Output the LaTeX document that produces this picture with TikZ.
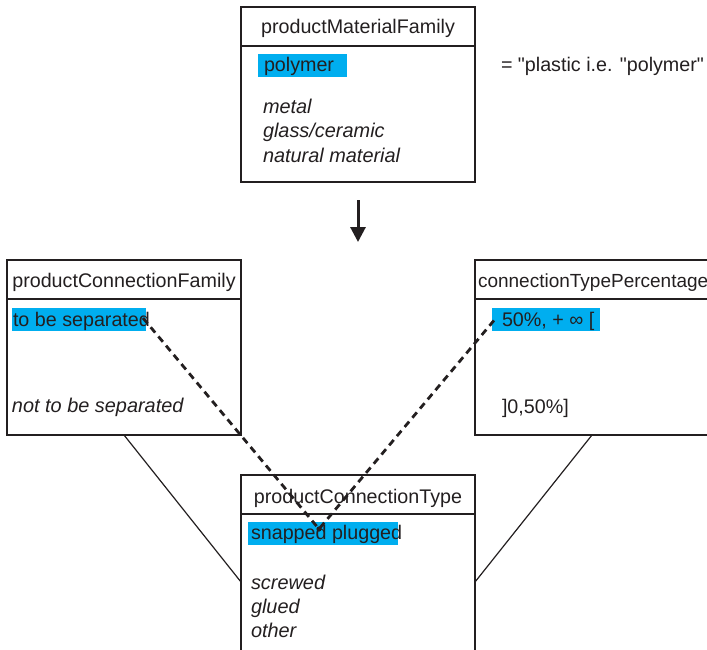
\documentclass[tikz,border=0pt]{standalone}
\usepackage{fontspec}
\setmainfont{Liberation Sans}[Ligatures=ResetAll]
\usetikzlibrary{arrows.meta}
\definecolor{hl}{HTML}{00AEEF}
\definecolor{ink}{HTML}{231F20}
\newcommand\strq{\XeTeXglyph\XeTeXcharglyph"22\relax}
\begin{document}
\begin{tikzpicture}[x=1pt,y=-1pt,
  box/.style={draw=ink, line width=1.2pt, anchor=north west, inner sep=0pt, outer sep=0pt},
  hlbox/.style={fill=hl, anchor=north west, inner sep=0pt, outer sep=0pt},
  txt/.style={anchor=base west, inner sep=0pt, outer sep=0pt, text=ink, font=\fontsize{19.7}{22}\selectfont},
  itxt/.style={txt, font=\fontsize{19.9}{22}\selectfont\itshape},
  ttl/.style={anchor=base, inner sep=0pt, outer sep=0pt, text=ink, font=\fontsize{19.7}{22}\selectfont},
  divider/.style={draw=ink, line width=1.5pt},
  link/.style={draw=ink, line width=1.2pt},
  dashlink/.style={draw=ink, line width=2.8pt, dash pattern=on 7pt off 5pt}]
\useasboundingbox (0,0) rectangle (707,649);
\clip (0,0) rectangle (707,649);

% top box
\node[box, minimum width=234pt, minimum height=175pt] (mat) at (241,7) {};
\draw[divider] ([yshift=-39pt]mat.north west) -- ([yshift=-39pt]mat.north east);
\node[ttl] (matT) at (358,33) {productMaterialFamily};
\node[hlbox, minimum width=89pt, minimum height=23pt] (hpoly) at (258,54) {};
\node[txt] (poly) at (264,71) {polymer};
\node[itxt] (metal) at (263,113) {metal};
\node[itxt] (glass) at (263,137) {glass/ceramic};
\node[itxt] (nat) at (263,162) {natural material};
\node[txt] (note) at (501,71) {= \strq plastic i.e. \strq polymer\strq};

% arrow
\coordinate (a1) at (358,200);
\coordinate (a2) at (358,242);
\draw[ink, line width=3pt, -{Triangle[length=15pt,width=15pt]}] (a1) -- (a2);

% left box
\node[box, minimum width=234pt, minimum height=175pt] (fam) at (7,260) {};
\draw[divider] ([yshift=-39pt]fam.north west) -- ([yshift=-39pt]fam.north east);
\node[ttl] (famT) at (124,287) {productConnectionFamily};
\node[hlbox, minimum width=134pt, minimum height=23pt] (hsep) at (12,308) {};
\node[txt] (sep) at (13,326) {to be separated};
\node[itxt] (nsep) at (12,412) {not to be separated};

% right box
\node[box, minimum width=245pt, minimum height=175pt] (pct) at (475,260) {};
\draw[divider] ([yshift=-39pt]pct.north west) -- ([yshift=-39pt]pct.north east);
\node[txt, font=\fontsize{19}{22}\selectfont] (pctT) at (478,287) {connectionTypePercentage};
\node[hlbox, minimum width=108pt, minimum height=23pt] (hpct) at (492,308) {};
\node[txt] (p50) at (502,326) {50\%, + ∞ [};
\node[txt] (p0) at (502,413) {]0,50\%]};

% bottom box
\node[box, minimum width=234pt, minimum height=190pt] (typ) at (241,475) {};
\draw[divider] ([yshift=-39pt]typ.north west) -- ([yshift=-39pt]typ.north east);
\node[ttl] (typT) at (358,503) {productConnectionType};
\node[hlbox, minimum width=150pt, minimum height=23pt] (hsnap) at (248,522) {};
\node[txt] (snap) at (251,539) {snapped plugged};
\node[itxt] (scr) at (251,589) {screwed};
\node[itxt] (glu) at (251,613) {glued};
\node[itxt] (oth) at (251,637) {other};

% solid links
\coordinate (l1) at (124,435);
\coordinate (l2) at (241,582);
\coordinate (r1) at (592,435);
\coordinate (r2) at (475,582);
\draw[link] (l1) -- (l2);
\draw[link] (r1) -- (r2);

% dashed links
\coordinate (d1) at (143,318);
\coordinate (d2) at (496,318);
\coordinate (d0) at (319,529);
\draw[dashlink] (d1) -- (d0) -- (d2);
\fill[ink] (d0) circle (2.6pt);
\end{tikzpicture}
\end{document}
